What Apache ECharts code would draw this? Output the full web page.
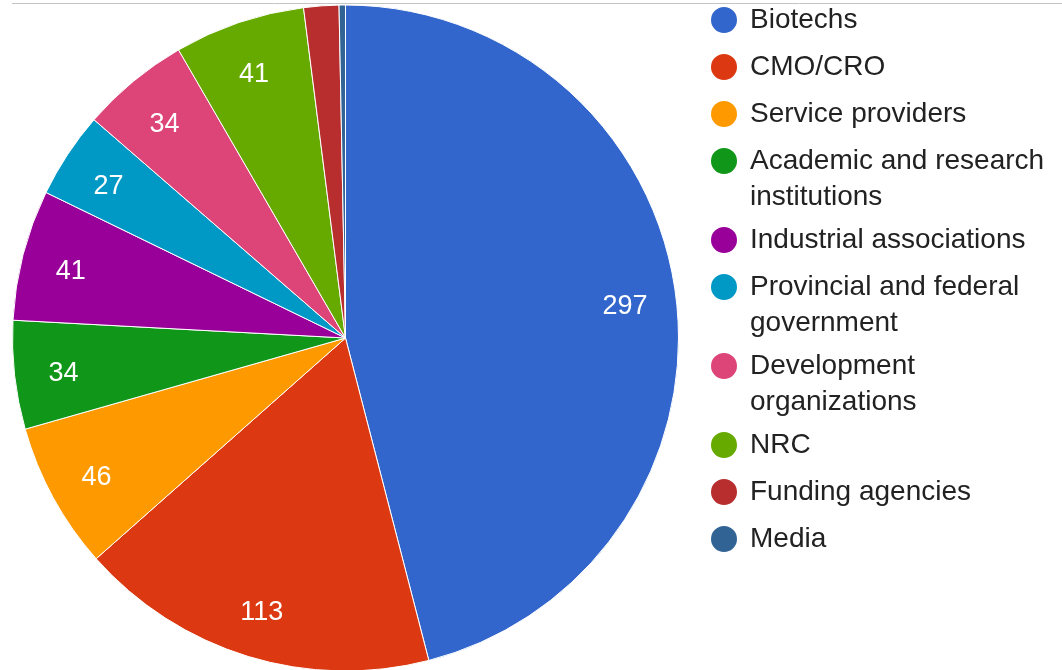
<!DOCTYPE html>
<html>
<head>
<meta charset="utf-8">
<script src="https://cdn.jsdelivr.net/npm/echarts@6/dist/echarts.min.js"></script>
<style>
  html, body { margin: 0; padding: 0; background: #fff; }
  #chart { width: 1062px; height: 670px; }
</style>
</head>
<body>
<div id="chart"></div>
<script>
const categories = [
  'Biotechs',
  'CMO/CRO',
  'Service providers',
  'Academic and research institutions',
  'Industrial associations',
  'Provincial and federal government',
  'Development organizations',
  'NRC',
  'Funding agencies',
  'Media'
];
const values = [297, 113, 46, 34, 41, 27, 34, 41, 11, 2];
const palette = ['#3366cc', '#dc3912', '#ff9900', '#109618', '#990099',
                 '#0099c6', '#dd4477', '#66aa00', '#b82e2e', '#316395'];

const pieData = categories.map((name, i) => ({ name: name, value: values[i] }));
const FONT = "'Liberation Sans', Arial, sans-serif";
const CX = 345.5, CY = 338, R = 333;

const chart = echarts.init(document.getElementById('chart'), null, { renderer: 'canvas' });
chart.setOption({
  animation: false,
  color: palette,
  graphic: [{
    type: 'line',
    shape: { x1: 12, y1: 3.5, x2: 1062, y2: 3.5 },
    style: { stroke: '#c4c4c4', lineWidth: 1 },
    z: -1
  }],
  legend: {
    orient: 'vertical',
    left: 709,
    top: 2,
    padding: 0,
    itemWidth: 28,
    itemHeight: 28,
    itemGap: 11,
    icon: 'circle',
    data: categories,
    formatter: '{t|{name}}',
    textStyle: {
      fontFamily: FONT,
      fontSize: 28,
      color: '#222222',
      width: 305,
      overflow: 'break',
      height: 36,
      lineHeight: 36,
      padding: [0, 0, 0, 7],
      rich: {
        t: {
          fontFamily: FONT,
          fontSize: 28,
          color: '#222222',
          lineHeight: 36
        }
      }
    }
  },
  series: [
    {
      name: 'main',
      type: 'pie',
      center: [CX, CY],
      radius: [0, R],
      startAngle: 90,
      clockwise: true,
      avoidLabelOverlap: false,
      label: { show: false },
      labelLine: { show: false },
      itemStyle: { borderColor: '#ffffff', borderWidth: 1 },
      emphasis: { disabled: true },
      data: pieData
    },
    {
      name: 'labels',
      type: 'pie',
      silent: true,
      center: [CX, CY],
      radius: [R * 0.68, R],
      startAngle: 90,
      clockwise: true,
      avoidLabelOverlap: false,
      minShowLabelAngle: 10,
      itemStyle: { color: 'rgba(0,0,0,0)', borderWidth: 0 },
      label: {
        show: true,
        position: 'inside',
        formatter: '{c}',
        color: '#ffffff',
        fontFamily: FONT,
        fontSize: 27,
        offset: [-1, 4]
      },
      labelLine: { show: false },
      emphasis: { disabled: true },
      data: pieData
    }
  ]
});
</script>
</body>
</html>
